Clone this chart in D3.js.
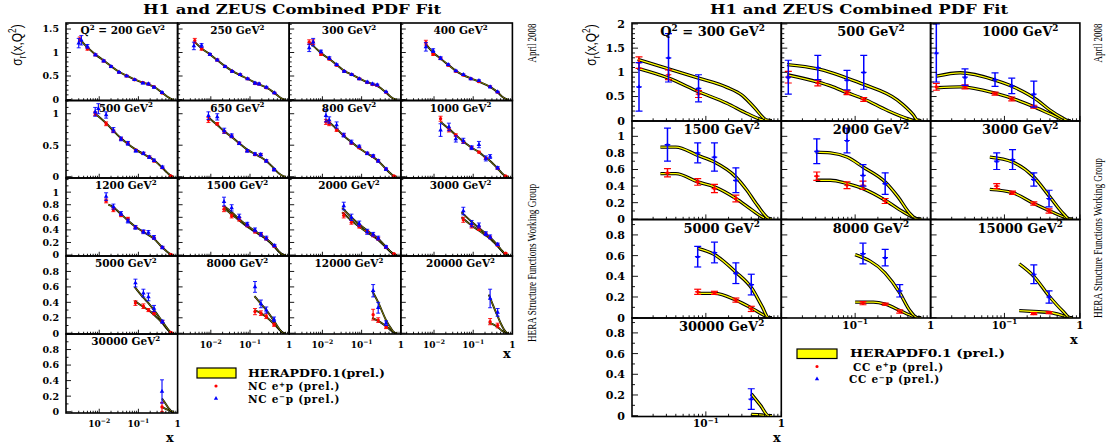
<!DOCTYPE html>
<html><head><meta charset="utf-8">
<script src="https://cdn.jsdelivr.net/npm/d3@7"></script>
<style>body{margin:0;background:#fff}svg{display:block}</style>
</head><body><svg id="c" width="1114" height="445"></svg>
<script>
// ---------------- DATA ----------------
const ncQ2 = [200,250,300,400,500,650,800,1000,1200,1500,2000,3000,5000,8000,12000,20000,30000];
// [x, sigma_r, error]
const ncEp = [
 [[0.0032,1.28,.05],[0.005,1.08,.03],[0.008,0.95,.02],[0.013,0.82,.02],[0.02,0.70,.015],[0.032,0.58,.015],[0.05,0.50,.015],[0.08,0.42,.015],[0.13,0.36,.015],[0.18,0.33,.015],[0.25,0.27,.015],[0.40,0.14,.01]],
 [[0.0039,1.25,.05],[0.0058,1.08,.03],[0.0095,0.96,.02],[0.0146,0.84,.02],[0.023,0.70,.015],[0.035,0.60,.015],[0.056,0.53,.015],[0.087,0.44,.015],[0.134,0.34,.015],[0.17,0.33,.015],[0.26,0.25,.015],[0.42,0.14,.01]],
 [[0.0046,1.22,.05],[0.0058,1.22,.05],[0.0092,0.96,.02],[0.015,0.86,.02],[0.023,0.73,.015],[0.036,0.60,.015],[0.056,0.53,.015],[0.087,0.44,.015],[0.139,0.36,.015],[0.19,0.32,.015],[0.25,0.30,.015],[0.42,0.155,.01]],
 [[0.0062,1.21,.05],[0.0095,0.96,.02],[0.0147,0.87,.02],[0.023,0.73,.015],[0.036,0.60,.015],[0.056,0.52,.015],[0.087,0.44,.015],[0.14,0.38,.015],[0.27,0.27,.015],[0.42,0.155,.01]],
 [[0.0079,1.0,.03],[0.015,0.84,.03],[0.023,0.72,.02],[0.036,0.60,.02],[0.054,0.53,.02],[0.086,0.42,.015],[0.134,0.37,.015],[0.19,0.31,.015],[0.25,0.25,.015],[0.41,0.14,.01],[0.67,0.01,.005]],
 [[0.0087,0.90,.04],[0.0146,0.84,.02],[0.022,0.71,.02],[0.034,0.64,.02],[0.053,0.53,.015],[0.085,0.41,.015],[0.134,0.35,.015],[0.187,0.35,.015],[0.26,0.25,.015],[0.41,0.11,.01]],
 [[0.0123,0.87,.04],[0.0149,0.84,.03],[0.023,0.74,.02],[0.035,0.66,.02],[0.055,0.53,.015],[0.087,0.46,.015],[0.139,0.37,.015],[0.197,0.32,.015],[0.265,0.25,.015],[0.42,0.12,.01],[0.67,0.01,.005]],
 [[0.0147,0.92,.04],[0.024,0.74,.03],[0.036,0.66,.02],[0.056,0.55,.02],[0.091,0.46,.02],[0.14,0.39,.015],[0.21,0.29,.015],[0.42,0.13,.01],[0.67,0.01,.005]],
 [[0.015,0.86,.03],[0.023,0.72,.03],[0.036,0.63,.02],[0.054,0.58,.02],[0.084,0.44,.02],[0.134,0.37,.02],[0.25,0.27,.015],[0.41,0.12,.01],[0.67,0.01,.005]],
 [[0.0217,0.73,.04],[0.034,0.62,.03],[0.053,0.57,.03],[0.085,0.47,.02],[0.134,0.37,.02],[0.19,0.33,.02],[0.26,0.26,.02],[0.42,0.14,.015]],
 [[0.035,0.63,.04],[0.055,0.52,.03],[0.087,0.45,.02],[0.139,0.37,.02],[0.197,0.31,.02],[0.265,0.26,.02],[0.42,0.12,.015],[0.67,0.02,.005]],
 [[0.056,0.56,.04],[0.091,0.46,.03],[0.14,0.42,.03],[0.21,0.33,.02],[0.27,0.28,.02],[0.42,0.16,.015],[0.67,0.03,.005]],
 [[0.084,0.39,.03],[0.134,0.35,.03],[0.18,0.30,.02],[0.25,0.26,.02],[0.41,0.15,.015],[0.67,0.01,.005]],
 [[0.134,0.28,.04],[0.19,0.26,.03],[0.26,0.22,.03],[0.41,0.11,.02]],
 [[0.197,0.24,.07],[0.265,0.17,.03],[0.42,0.08,.02]],
 [[0.27,0.15,.04],[0.42,0.10,.03]],
 [[0.40,0.06,.06]]
];
const ncEm = [
 [[0.003,1.2,.1],[0.0035,1.26,.1],[0.005,1.13,.04],[0.008,0.95,.02],[0.013,0.82,.02],[0.02,0.70,.02],[0.032,0.58,.015],[0.05,0.50,.015],[0.08,0.42,.015],[0.13,0.35,.015],[0.18,0.33,.02],[0.25,0.26,.02],[0.40,0.15,.015]],
 [[0.0037,1.14,.08],[0.0058,1.15,.04],[0.0095,0.96,.02],[0.0146,0.84,.02],[0.023,0.70,.02],[0.035,0.60,.015],[0.056,0.53,.015],[0.087,0.44,.015],[0.134,0.35,.02],[0.17,0.33,.02],[0.26,0.26,.02],[0.42,0.14,.015]],
 [[0.0046,1.10,.08],[0.0058,1.22,.08],[0.0092,1.02,.03],[0.015,0.88,.03],[0.023,0.74,.02],[0.036,0.60,.015],[0.056,0.53,.015],[0.087,0.44,.015],[0.139,0.37,.02],[0.19,0.33,.02],[0.25,0.31,.02],[0.42,0.16,.015]],
 [[0.0062,1.12,.09],[0.0095,1.04,.04],[0.0147,0.88,.03],[0.023,0.74,.02],[0.036,0.61,.015],[0.056,0.53,.015],[0.087,0.44,.015],[0.14,0.40,.02],[0.27,0.27,.02],[0.42,0.16,.015]],
 [[0.0079,1.03,.07],[0.0095,1.08,.08],[0.015,0.98,.05],[0.023,0.74,.04],[0.036,0.60,.03],[0.054,0.53,.03],[0.086,0.41,.02],[0.134,0.37,.02],[0.19,0.31,.02],[0.25,0.26,.02],[0.41,0.15,.02]],
 [[0.0087,0.97,.06],[0.0146,0.95,.05],[0.022,0.73,.04],[0.034,0.65,.03],[0.053,0.53,.02],[0.085,0.41,.02],[0.134,0.36,.02],[0.187,0.35,.02],[0.26,0.25,.02],[0.41,0.11,.02]],
 [[0.0123,0.97,.1],[0.0149,0.90,.05],[0.023,0.82,.05],[0.035,0.66,.03],[0.055,0.55,.03],[0.087,0.48,.02],[0.139,0.37,.02],[0.197,0.33,.02],[0.265,0.25,.02],[0.42,0.12,.02]],
 [[0.0147,0.74,.1],[0.024,0.79,.06],[0.036,0.60,.05],[0.056,0.57,.04],[0.091,0.46,.03],[0.14,0.51,.05],[0.21,0.29,.04],[0.27,0.32,.03],[0.42,0.14,.02]],
 [[0.015,0.93,.06],[0.023,0.77,.04],[0.036,0.66,.03],[0.054,0.54,.03],[0.084,0.44,.03],[0.134,0.37,.03],[0.18,0.36,.03],[0.25,0.28,.03],[0.41,0.12,.02]],
 [[0.0217,0.85,.07],[0.034,0.75,.05],[0.053,0.61,.04],[0.085,0.49,.03],[0.134,0.40,.03],[0.19,0.33,.03],[0.26,0.27,.03],[0.42,0.15,.02]],
 [[0.035,0.78,.06],[0.055,0.60,.05],[0.087,0.50,.04],[0.139,0.37,.04],[0.197,0.33,.03],[0.265,0.27,.03],[0.42,0.13,.02]],
 [[0.056,0.70,.06],[0.091,0.50,.05],[0.14,0.47,.04],[0.21,0.34,.03],[0.27,0.29,.03],[0.42,0.17,.02]],
 [[0.084,0.65,.05],[0.134,0.52,.05],[0.18,0.47,.05],[0.25,0.32,.04],[0.41,0.15,.02]],
 [[0.134,0.60,.07],[0.19,0.38,.05],[0.26,0.30,.04],[0.41,0.18,.03]],
 [[0.197,0.55,.08],[0.265,0.33,.07],[0.42,0.13,.03]],
 [[0.27,0.45,.12],[0.42,0.27,.05]],
 [[0.40,0.26,.15]]
];
// fit curves (e+p / e-p), [x, sigma_r]
const ncFitP = [
 [[0.0033,1.27],[0.005,1.11],[0.008,0.96],[0.013,0.83],[0.02,0.71],[0.032,0.59],[0.05,0.51],[0.08,0.43],[0.13,0.36],[0.18,0.32],[0.25,0.27],[0.4,0.15],[0.55,0.06],[0.7,0.01],[0.8,0]],
 [[0.0039,1.22],[0.006,1.08],[0.0095,0.96],[0.015,0.83],[0.023,0.71],[0.035,0.61],[0.056,0.52],[0.087,0.44],[0.134,0.36],[0.17,0.32],[0.26,0.26],[0.42,0.14],[0.55,0.06],[0.7,0.01],[0.8,0]],
 [[0.0048,1.2],[0.006,1.13],[0.0092,0.99],[0.015,0.86],[0.023,0.74],[0.036,0.61],[0.056,0.53],[0.087,0.45],[0.139,0.37],[0.19,0.33],[0.25,0.29],[0.42,0.15],[0.55,0.06],[0.7,0.01],[0.8,0]],
 [[0.0062,1.18],[0.0095,1.0],[0.0147,0.87],[0.023,0.74],[0.036,0.61],[0.056,0.52],[0.087,0.45],[0.14,0.38],[0.27,0.27],[0.42,0.155],[0.55,0.06],[0.7,0.01],[0.8,0]],
 [[0.0079,1.0],[0.015,0.85],[0.023,0.73],[0.036,0.61],[0.054,0.52],[0.086,0.43],[0.134,0.36],[0.19,0.31],[0.25,0.26],[0.41,0.14],[0.55,0.06],[0.7,0.01],[0.8,0]],
 [[0.0087,0.94],[0.0146,0.82],[0.022,0.72],[0.034,0.63],[0.053,0.53],[0.085,0.43],[0.134,0.36],[0.187,0.31],[0.26,0.25],[0.41,0.13],[0.55,0.05],[0.7,0.01],[0.8,0]],
 [[0.0123,0.9],[0.015,0.86],[0.023,0.76],[0.035,0.65],[0.055,0.55],[0.087,0.45],[0.139,0.37],[0.197,0.31],[0.265,0.25],[0.42,0.12],[0.55,0.05],[0.7,0.005],[0.8,0]],
 [[0.0147,0.87],[0.024,0.76],[0.036,0.66],[0.056,0.56],[0.091,0.46],[0.14,0.39],[0.21,0.3],[0.27,0.25],[0.42,0.13],[0.55,0.05],[0.7,0.005],[0.8,0]],
 [[0.017,0.8],[0.023,0.76],[0.036,0.65],[0.054,0.55],[0.084,0.45],[0.134,0.37],[0.18,0.32],[0.25,0.26],[0.41,0.12],[0.55,0.05],[0.7,0.005],[0.8,0]],
 [[0.0217,0.74],[0.034,0.65],[0.053,0.55],[0.085,0.45],[0.134,0.37],[0.19,0.31],[0.26,0.25],[0.42,0.13],[0.55,0.05],[0.7,0.005],[0.8,0]],
 [[0.032,0.68],[0.055,0.55],[0.087,0.45],[0.139,0.36],[0.197,0.30],[0.265,0.24],[0.42,0.12],[0.55,0.05],[0.7,0.005],[0.8,0]],
 [[0.05,0.6],[0.091,0.47],[0.14,0.39],[0.21,0.31],[0.27,0.26],[0.42,0.14],[0.55,0.06],[0.7,0.005],[0.8,0]],
 [[0.08,0.42],[0.134,0.34],[0.18,0.30],[0.25,0.24],[0.41,0.13],[0.55,0.05],[0.7,0.005],[0.8,0]],
 [[0.13,0.3],[0.19,0.26],[0.26,0.21],[0.41,0.12],[0.55,0.05],[0.7,0.005],[0.8,0]],
 [[0.185,0.2],[0.265,0.16],[0.42,0.09],[0.55,0.04],[0.7,0.005],[0.8,0]],
 [[0.25,0.14],[0.42,0.08],[0.55,0.03],[0.7,0.003],[0.8,0]],
 [[0.4,0.06],[0.55,0.025],[0.7,0.003],[0.8,0]]
];
const ncFitM = [
 null,null,null,null,null,null,null,null,null,
 [[0.0217,0.78],[0.034,0.68],[0.053,0.57],[0.085,0.47],[0.134,0.38],[0.19,0.32],[0.26,0.26],[0.42,0.14],[0.55,0.055],[0.7,0.005],[0.8,0]],
 [[0.032,0.75],[0.055,0.6],[0.087,0.49],[0.139,0.39],[0.197,0.32],[0.265,0.26],[0.42,0.13],[0.55,0.055],[0.7,0.005],[0.8,0]],
 [[0.05,0.68],[0.091,0.53],[0.14,0.43],[0.21,0.34],[0.27,0.28],[0.42,0.155],[0.55,0.065],[0.7,0.005],[0.8,0]],
 [[0.08,0.6],[0.134,0.46],[0.18,0.39],[0.25,0.3],[0.41,0.15],[0.55,0.06],[0.7,0.005],[0.8,0]],
 [[0.13,0.48],[0.19,0.38],[0.26,0.3],[0.41,0.16],[0.55,0.06],[0.7,0.005],[0.8,0]],
 [[0.185,0.55],[0.265,0.4],[0.42,0.17],[0.55,0.07],[0.7,0.005],[0.8,0]],
 [[0.25,0.5],[0.42,0.22],[0.55,0.09],[0.7,0.01],[0.8,0]],
 [[0.4,0.17],[0.5,0.1],[0.6,0.04],[0.7,0.005],[0.8,0]]
];

const ccQ2 = [300,500,1000,1500,2000,3000,5000,8000,15000,30000];
const ccEp = [
 [[0.013,1.2,.12],[0.032,0.95,.1],[0.08,0.55,.07]],
 [[0.013,0.9,.12],[0.032,0.78,.06],[0.078,0.58,.04],[0.13,0.44,.04]],
 [[0.0125,0.7,.07],[0.03,0.7,.04],[0.075,0.56,.03],[0.125,0.45,.04],[0.245,0.29,.03]],
 [[0.031,0.56,.05],[0.078,0.45,.04],[0.13,0.37,.05],[0.25,0.25,.04]],
 [[0.031,0.52,.05],[0.078,0.41,.04],[0.127,0.41,.05],[0.25,0.22,.03]],
 [[0.079,0.40,.03],[0.128,0.32,.02],[0.245,0.19,.02],[0.39,0.10,.025]],
 [[0.078,0.25,.025],[0.13,0.24,.015],[0.25,0.17,.02],[0.40,0.085,.025]],
 [[0.127,0.14,.015],[0.25,0.13,.01],[0.39,0.06,.015]],
 [[0.245,0.04,.01],[0.39,0.05,.01]],
 []
];
const ccEm = [
 [[0.013,0.7,.5],[0.032,1.3,.5],[0.08,0.67,.28]],
 [[0.013,0.9,.35],[0.032,1.1,.25],[0.078,0.84,.2],[0.13,1.0,.35]],
 [[0.0125,1.4,.6],[0.03,0.9,.17],[0.075,0.85,.14],[0.125,0.72,.16],[0.245,0.55,.27]],
 [[0.031,0.9,.2],[0.078,0.8,.12],[0.13,0.75,.17],[0.25,0.47,.15]],
 [[0.031,0.82,.15],[0.078,0.95,.15],[0.127,0.53,.13],[0.25,0.43,.13]],
 [[0.079,0.70,.1],[0.128,0.72,.12],[0.245,0.48,.08],[0.39,0.25,.1]],
 [[0.078,0.59,.1],[0.13,0.63,.1],[0.25,0.43,.1],[0.40,0.32,.1]],
 [[0.127,0.62,.1],[0.25,0.58,.08],[0.39,0.26,.06]],
 [[0.245,0.42,.09],[0.39,0.20,.06]],
 [[0.40,0.16,.1]]
];
const ccFitP = [
 [[0.0125,1.08],[0.032,0.88],[0.08,0.6],[0.19,0.36],[0.35,0.15],[0.53,0.03],[0.65,0],[0.75,0]],
 [[0.0125,0.95],[0.032,0.8],[0.047,0.72],[0.078,0.58],[0.13,0.45],[0.26,0.22],[0.48,0.05],[0.62,0],[0.75,0]],
 [[0.0125,0.68],[0.026,0.7],[0.075,0.57],[0.145,0.43],[0.27,0.26],[0.49,0.08],[0.665,0],[0.75,0]],
 [[0.025,0.55],[0.04,0.55],[0.078,0.45],[0.13,0.39],[0.25,0.25],[0.41,0.11],[0.58,0.02],[0.7,0],[0.75,0]],
 [[0.03,0.47],[0.047,0.47],[0.078,0.43],[0.127,0.37],[0.25,0.23],[0.43,0.09],[0.64,0.01],[0.75,0]],
 [[0.064,0.36],[0.128,0.32],[0.245,0.19],[0.40,0.10],[0.60,0.03],[0.74,0],[0.8,0]],
 [[0.078,0.235],[0.13,0.235],[0.25,0.17],[0.41,0.09],[0.58,0.026],[0.68,0],[0.75,0]],
 [[0.10,0.15],[0.175,0.15],[0.25,0.13],[0.39,0.07],[0.53,0.026],[0.67,0],[0.75,0]],
 [[0.157,0.068],[0.245,0.06],[0.40,0.05],[0.60,0.02],[0.74,0],[0.8,0]],
 [[0.40,0.012],[0.55,0.006],[0.68,0],[0.75,0]]
];
const ccFitM = [
 [[0.0125,1.27],[0.032,1.07],[0.08,0.88],[0.19,0.69],[0.3,0.53],[0.43,0.29],[0.65,0.01],[0.75,0]],
 [[0.0125,1.16],[0.032,1.07],[0.047,1.0],[0.078,0.88],[0.13,0.75],[0.36,0.43],[0.59,0.12],[0.67,0.01],[0.75,0]],
 [[0.0125,0.92],[0.026,0.99],[0.075,0.84],[0.145,0.67],[0.27,0.43],[0.4,0.22],[0.6,0.05],[0.7,0],[0.75,0]],
 [[0.025,0.87],[0.04,0.87],[0.078,0.77],[0.13,0.69],[0.25,0.51],[0.35,0.35],[0.48,0.17],[0.68,0.01],[0.75,0]],
 [[0.03,0.81],[0.047,0.8],[0.078,0.75],[0.127,0.63],[0.25,0.45],[0.37,0.27],[0.53,0.07],[0.67,0],[0.75,0]],
 [[0.064,0.75],[0.128,0.69],[0.245,0.51],[0.40,0.27],[0.60,0.07],[0.74,0],[0.8,0]],
 [[0.078,0.67],[0.13,0.61],[0.25,0.44],[0.41,0.28],[0.555,0.11],[0.68,0],[0.75,0]],
 [[0.10,0.61],[0.25,0.43],[0.39,0.24],[0.53,0.07],[0.67,0],[0.75,0]],
 [[0.157,0.52],[0.245,0.40],[0.40,0.2],[0.60,0.06],[0.74,0],[0.8,0]],
 [[0.40,0.21],[0.53,0.1],[0.68,0],[0.75,0]]
];

// axis tick values per row
const ncYTicks = [[0,0.5,1,1.5],[0,0.5,1],[0,0.2,0.4,0.6,0.8,1],[0,0.2,0.4,0.6,0.8],[0,0.2,0.4,0.6,0.8]];
const ncYDomains = [[-0.021,1.628],[-0.021,1.21],[-0.015,1.225],[-0.01,1.0],[-0.017,1.0]];
const ccYTicks = [[0,0.5,1,1.5,2],[0,0.2,0.4,0.6,0.8,1],[0,0.2,0.4,0.6,0.8],[0,0.2,0.4,0.6,0.8]];
const ccYDomains = [[-0.006,2.02],[-0.003,1.185],[-0.003,0.949],[-0.008,0.944]];
const ncXTicks = [0.01,0.1,1];
const ccXTicks = [0.1,1];
const ncXDomain = [0.00142,1];
const ccXDomain = [0.0105,1];

// ---------------- DRAWING ----------------
const svg = d3.select('#c');
const SERIF = "'DejaVu Serif', serif";
const TIMES = "'Liberation Serif', serif";
const RED = '#ff0000', BLUE = '#0000ff', YEL = '#ffff00';
let clipN = 0;

function rich(t, parts, fs, supK){
  let cur = 0;
  const k0 = supK || 0.4;
  parts.forEach(([s,k])=>{
    const off = k==='sup' ? -k0*fs : k==='sub' ? 0.25*fs : 0;
    t.append('tspan').text(s).attr('dy', off-cur).attr('font-size', k ? fs*0.68 : fs);
    cur = off;
  });
}
function tickLabel(v){
  if (v === 1) return [['1',null]];
  const e = Math.round(Math.log10(v));
  return [['10',null],[String(e).replace('-','\u2212'),'sup']];
}

function panel(o){
  const x = d3.scaleLog().domain(o.xdom).range([o.x0, o.x0+o.w]);
  const y = d3.scaleLinear().domain(o.ydom).range([o.y0+o.h, o.y0]);
  const id = 'cl'+(clipN++);
  svg.append('clipPath').attr('id',id).append('rect')
    .attr('x',o.x0).attr('y',o.y0).attr('width',o.w).attr('height',o.h);
  const pg = svg.append('g').attr('clip-path',`url(#${id})`);
  const line = d3.line().x(d=>x(d[0])).y(d=>y(d[1])).curve(d3.curveMonotoneX);
  [o.fitP, o.fitM].forEach(f=>{
    if(!f) return;
    pg.append('path').attr('d',line(f)).attr('fill','none').attr('stroke','#000')
      .attr('stroke-width',o.band).attr('stroke-linejoin','round');
    pg.append('path').attr('d',line(f)).attr('fill','none').attr('stroke',YEL)
      .attr('stroke-width',o.yband);
  });
  const drawPts = (pts,col,sym)=>{
    pts.forEach(p=>{
      const px = x(p[0]), py = y(p[1]), y1 = y(p[1]+p[2]), y2 = y(Math.max(p[1]-p[2], o.ydom[0]));
      pg.append('line').attr('x1',px).attr('x2',px).attr('y1',y1).attr('y2',y2)
        .attr('stroke',col).attr('stroke-width',o.ew);
      [y1,y2].forEach(yy=>pg.append('line').attr('x1',px-o.cap).attr('x2',px+o.cap)
        .attr('y1',yy).attr('y2',yy).attr('stroke',col).attr('stroke-width',o.ew*0.8));
      if (o.cc) {
        pg.append('line').attr('x1',px-o.cap*0.8).attr('x2',px+o.cap*0.8).attr('y1',py).attr('y2',py)
          .attr('stroke',col).attr('stroke-width',1.2);
      }
      pg.append('path').attr('transform',`translate(${px},${py})`)
        .attr('d',d3.symbol().type(sym).size(o.ms)()).attr('fill',col);
    });
  };
  drawPts(o.ep, RED, d3.symbolCircle);
  drawPts(o.em, BLUE, d3.symbolTriangle);

  // axis ticks
  const ag = svg.append('g').attr('stroke','#000').attr('stroke-width',0.9);
  const yb = o.ydom[1];
  for (let v = 0; v <= yb+1e-9; v += o.ymin) {
    const vv = Math.round(v*1000)/1000;
    const major = o.yticks.some(t=>Math.abs(t-vv)<1e-6);
    const L = major ? o.tl : o.tl*0.5;
    ag.append('line').attr('x1',o.x0).attr('x2',o.x0+L).attr('y1',y(vv)).attr('y2',y(vv));
  }
  const d0 = Math.floor(Math.log10(o.xdom[0]));
  for (let d = d0; d <= 0; d++) {
    for (let k = 1; k <= 9; k++) {
      const v = k*Math.pow(10,d);
      if (v < o.xdom[0] || v > o.xdom[1]) continue;
      const L = k===1 ? o.tl*0.85 : o.tl*0.45;
      ag.append('line').attr('x1',x(v)).attr('x2',x(v)).attr('y1',o.y0+o.h).attr('y2',o.y0+o.h-L);
    }
  }
  svg.append('rect').attr('x',o.x0).attr('y',o.y0).attr('width',o.w).attr('height',o.h)
    .attr('fill','none').attr('stroke','#000').attr('stroke-width',1.6);

  if (o.showY) {
    o.yticks.forEach(t=>{
      svg.append('text').attr('x',o.x0-7).attr('y',y(t)).attr('dy','0.36em')
        .attr('text-anchor','end').attr('font-family',SERIF).attr('font-weight','bold')
        .attr('font-size',o.yfs).text(String(t));
    });
  }
  if (o.showX) {
    o.xticks.forEach(t=>{
      const tx = svg.append('text').attr('x',x(t)).attr('y',o.y0+o.h+o.xoff)
        .attr('text-anchor','middle').attr('font-family',SERIF).attr('font-weight','bold');
      rich(tx, tickLabel(t), o.xfs);
    });
  }
  const lt = svg.append('text').attr('x',o.x0+o.w/2+o.lx).attr('y',o.y0+o.ly)
    .attr('text-anchor','middle').attr('font-family',SERIF).attr('font-weight','bold');
  rich(lt, o.label, o.lfs);
}

// ---- left: NC ----
const LX0 = 66, LW = 111.6;
const LY = [23,100.5,178,256,334], LH = [77.5,77.5,78,78,79];
ncQ2.forEach((q,i)=>{
  const r = i<16 ? Math.floor(i/4) : 4, c = i<16 ? i%4 : 0;
  const lab = i===0 ? [['Q',null],['2','sup'],[' = '+q+' GeV',null],['2','sup']] : [[q+' GeV',null],['2','sup']];
  panel({x0:LX0+c*LW, y0:LY[r], w:LW, h:LH[r], xdom:ncXDomain, ydom:ncYDomains[r],
    yticks:ncYTicks[r], ymin: 0.1, xticks:ncXTicks,
    ep:ncEp[i], em:ncEm[i], fitP:ncFitP[i], fitM:ncFitM[i],
    band:1.9, yband:0.5, ew:1.1, cap:2, ms:9, tl:5, cc:false,
    showY:c===0, showX:(r===3&&c>0)||r===4, yfs:9.5, xfs:9, xoff:14,
    label:lab, lfs:10.5, lx:i===0?1:4, ly:11});
});
// ---- right: CC ----
const RX0 = 632, RW = 149.3;
const RY = [23,121,219.5,318], RH = [98,98.5,98.5,98.5];
ccQ2.forEach((q,i)=>{
  const r = i<9 ? Math.floor(i/3) : 3, c = i<9 ? i%3 : 0;
  const lab = i===0 ? [['Q',null],['2','sup'],[' = '+q+' GeV',null],['2','sup']] : [[q+' GeV',null],['2','sup']];
  panel({x0:RX0+c*RW, y0:RY[r], w:RW, h:RH[r], xdom:ccXDomain, ydom:ccYDomains[r],
    yticks:ccYTicks[r], ymin: 0.1, xticks:ccXTicks,
    ep:ccEp[i], em:ccEm[i], fitP:ccFitP[i], fitM:ccFitM[i],
    band:3.4, yband:1.3, ew:1.5, cap:3.5, ms:8, tl:6, cc:true,
    showY:c===0, showX:(r===2&&c>0)||r===3, yfs:11, xfs:10.5, xoff:10.5,
    label:lab, lfs:13, lx:i===0?6:15, ly:13});
});

// ---- titles & side texts ----
function title(cx){
  svg.append('text').attr('x',cx).attr('y',14).attr('text-anchor','middle')
    .attr('font-family',SERIF).attr('font-weight','bold').attr('font-size',13.5)
    .attr('textLength',298).attr('lengthAdjust','spacingAndGlyphs')
    .text('H1 and ZEUS Combined PDF Fit');
}
title(292); title(859);
function ylab(cx){
  const t = svg.append('text').attr('transform',`translate(${cx},45) rotate(-90) scale(0.8,1)`)
    .attr('text-anchor','middle').attr('font-family',"'Liberation Sans', sans-serif").attr('font-size',15);
  rich(t, [['\u03c3',null],['r','sub'],['(x,Q',null],['2','sup'],[')',null]], 15);
}
ylab(22); ylab(596);
function side(cx, cy, len, s, fs){
  svg.append('text').attr('transform',`translate(${cx},${cy}) rotate(-90)`)
    .attr('text-anchor','middle').attr('font-family',TIMES).attr('font-size',fs)
    .attr('textLength',len).attr('lengthAdjust','spacingAndGlyphs').text(s);
}
side(535.5, 43, 39, 'April 2008', 13);
side(1101.5, 43, 39, 'April 2008', 13);
side(535.5, 263, 158, 'HERA Structure Functions Working Group', 13);
side(1101.5, 238, 160, 'HERA Structure Functions Working Group', 13);

// x axis titles
[[507,358],[170,442],[1074,344],[777,442]].forEach(([xx,yy])=>{
  svg.append('text').attr('x',xx).attr('y',yy).attr('text-anchor','middle')
    .attr('font-family',SERIF).attr('font-weight','bold').attr('font-size',13).text('x');
});

// ---- legends ----
function legend(bx, by, bw, bh, lines, fs, headLen){
  svg.append('rect').attr('x',bx).attr('y',by).attr('width',bw).attr('height',bh)
    .attr('fill',YEL).attr('stroke','#000').attr('stroke-width',1.2);
  lines.forEach((l,i)=>{
    if (l.col) svg.append('path').attr('transform',`translate(${l.mx},${l.y-4})`)
      .attr('d',d3.symbol().type(l.sym).size(8)()).attr('fill',l.col);
    const t = svg.append('text').attr('x',l.tx).attr('y',l.y).attr('font-family',SERIF)
      .attr('font-weight','bold');
    if (i===0) t.attr('font-size',fs).attr('textLength',headLen).attr('lengthAdjust','spacingAndGlyphs').text(l.parts[0][0]);
    else { t.attr('letter-spacing',0.7); rich(t, l.parts, fs, 0.3); }
  });
}
legend(197, 368, 39, 10, [
  {tx:248, y:376.5, parts:[['HERAPDF0.1(prel.)',null]]},
  {tx:248, y:390, col:RED, sym:d3.symbolCircle, mx:216, parts:[['NC e',null],['+','sup'],['p (prel.)',null]]},
  {tx:248, y:402.5, col:BLUE, sym:d3.symbolTriangle, mx:216, parts:[['NC e',null],['\u2212','sup'],['p (prel.)',null]]}
], 10.5, 137);
legend(797, 349, 40, 9.5, [
  {tx:850, y:357, parts:[['HERAPDF0.1 (prel.)',null]]},
  {tx:853, y:370.5, col:RED, sym:d3.symbolCircle, mx:817, parts:[['CC e',null],['+','sup'],['p (prel.)',null]]},
  {tx:849, y:383, col:BLUE, sym:d3.symbolTriangle, mx:817, parts:[['CC e',null],['\u2212','sup'],['p (prel.)',null]]}
], 10.5, 155);
</script></body></html>
